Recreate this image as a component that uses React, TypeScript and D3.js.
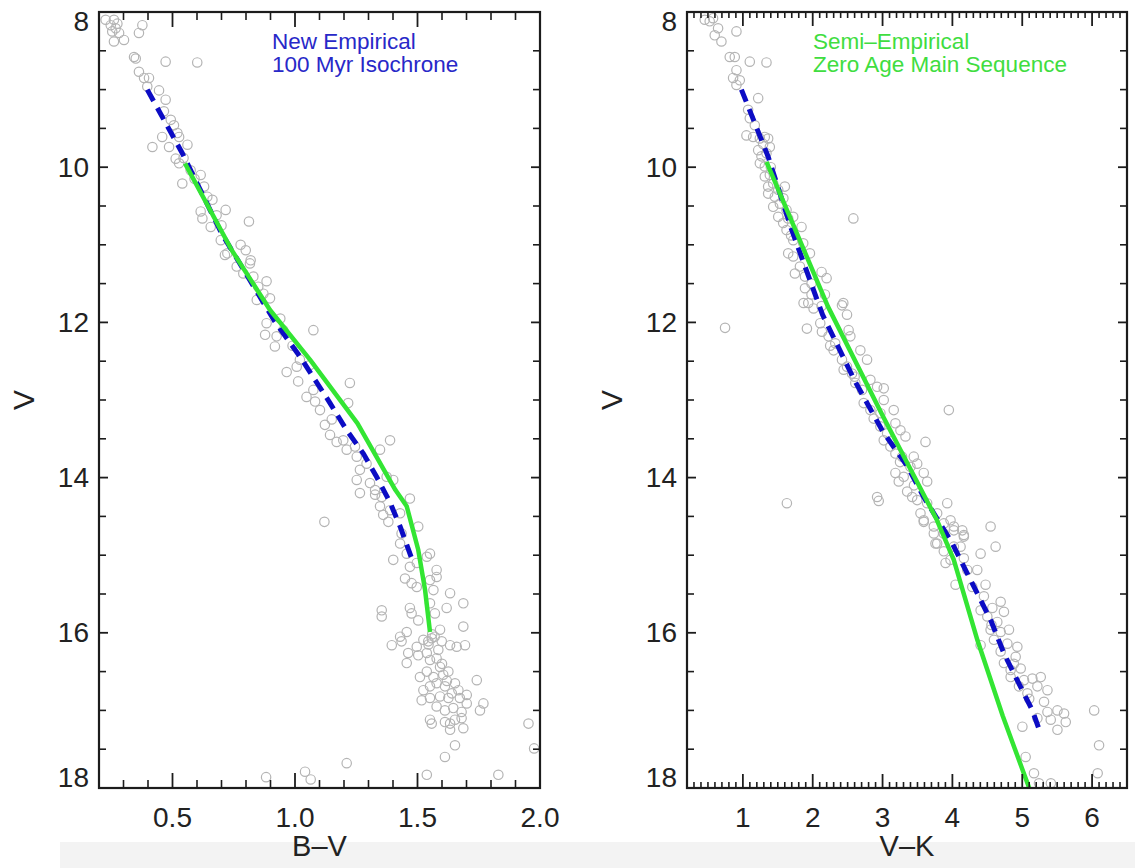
import React from "react";
import * as d3 from "d3";

// ---------- data ----------
// Left panel: B-V vs V (star photometry)
const bvStars: [number, number][] = [
  [0.227, 8.10], [0.248, 8.17], [0.261, 8.10], [0.268, 8.21], [0.254, 8.25], [0.275, 8.15], [0.282, 8.27],
  [0.261, 8.38], [0.302, 8.36], [0.363, 8.27], [0.377, 8.17], [0.343, 8.58], [0.350, 8.60], [0.363, 8.77],
  [0.384, 8.85], [0.404, 8.85], [0.472, 8.64], [0.601, 8.65], [0.397, 8.96], [0.445, 9.01], [0.472, 9.13],
  [0.465, 9.28], [0.493, 9.39], [0.506, 9.46], [0.520, 9.56], [0.527, 9.61], [0.458, 9.61], [0.418, 9.74],
  [0.486, 9.74], [0.561, 9.71], [0.513, 9.89], [0.527, 9.95], [0.540, 10.21], [0.574, 10.04], [0.615, 10.10],
  [0.629, 10.25], [0.642, 10.38], [0.663, 10.42], [0.615, 10.57], [0.622, 10.66], [0.656, 10.77], [0.717, 10.55],
  [0.812, 10.70], [0.697, 10.94], [0.724, 11.11], [0.778, 11.00], [0.799, 11.07], [0.819, 11.20], [0.545, 9.88],
  [0.590, 10.15], [0.680, 10.62], [0.700, 10.75],
  [0.714, 11.13], [0.762, 11.28], [0.789, 11.37], [0.816, 11.24], [0.830, 11.41], [0.850, 11.54], [0.884, 11.47],
  [0.844, 11.71], [0.871, 11.63], [0.898, 11.69], [0.884, 12.01], [0.878, 12.16], [0.918, 12.31], [0.925, 12.18],
  [0.952, 12.10], [1.075, 12.10], [0.966, 12.64], [1.007, 12.57], [1.013, 12.76], [1.020, 12.48], [1.061, 12.55],
  [1.047, 12.96], [1.075, 12.87], [1.082, 13.02], [1.122, 13.32], [1.143, 13.45], [1.170, 13.54], [1.197, 13.52],
  [1.211, 13.64], [1.224, 12.78], [1.217, 13.04], [1.252, 13.73], [1.265, 13.90], [1.252, 14.03], [1.265, 14.20],
  [1.306, 14.07], [1.327, 14.16], [1.347, 13.64], [1.388, 13.52], [1.374, 13.99], [1.401, 14.03], [1.469, 14.27],
  [1.354, 14.25], [1.292, 13.82], [1.245, 13.60], [1.102, 13.13], [0.940, 11.95], [0.990, 12.30], [1.150, 13.25],
  [1.327, 14.22], [1.347, 14.37], [1.360, 14.48], [1.381, 14.57], [1.388, 14.42], [1.429, 14.46], [1.435, 14.72],
  [1.503, 14.63], [1.401, 15.06], [1.429, 14.85], [1.456, 14.98], [1.469, 15.15], [1.497, 15.10], [1.538, 15.02],
  [1.551, 14.98], [1.578, 15.19], [1.449, 15.30], [1.476, 15.36], [1.497, 15.41], [1.551, 15.32], [1.565, 15.45],
  [1.578, 15.28], [1.633, 15.49], [1.687, 15.62], [1.619, 15.68], [1.354, 15.71], [1.354, 15.79], [1.469, 15.68],
  [1.476, 15.75], [1.503, 15.84], [1.571, 15.75], [1.551, 15.62], [1.687, 15.92], [1.456, 15.99], [1.435, 16.11],
  [1.395, 16.16], [1.429, 16.05], [1.462, 16.26], [1.497, 16.18], [1.524, 16.09], [1.544, 16.11], [1.558, 16.07],
  [1.592, 15.96], [1.599, 16.11], [1.633, 16.16], [1.660, 16.18], [1.694, 16.16], [1.456, 16.39], [1.503, 16.29],
  [1.538, 16.26], [1.551, 16.35], [1.578, 16.33], [1.592, 16.44], [1.510, 16.57], [1.538, 16.50], [1.565, 16.57],
  [1.605, 16.54], [1.626, 16.50], [1.524, 16.74], [1.551, 16.69], [1.578, 16.65], [1.612, 16.69], [1.653, 16.65],
  [1.667, 16.74], [1.742, 16.61], [1.701, 16.80], [1.517, 16.87], [1.551, 16.84], [1.592, 16.82], [1.626, 16.84],
  [1.673, 16.84], [1.701, 16.91], [1.578, 16.95], [1.612, 17.00], [1.646, 16.97], [1.680, 17.02], [1.769, 16.91],
  [1.755, 17.00], [1.551, 17.12], [1.558, 17.17], [1.612, 17.15], [1.633, 17.17], [1.653, 17.12], [1.680, 17.10],
  [1.687, 17.23], [1.633, 17.25], [1.653, 17.45], [1.612, 17.60], [1.211, 17.68], [1.538, 17.83], [1.830, 17.83],
  [0.882, 17.86], [1.041, 17.79], [1.064, 17.89], [1.953, 17.17], [1.976, 17.49], [1.120, 14.57],
  [1.560, 16.02], [1.570, 16.05], [1.545, 16.15], [1.585, 16.22], [1.600, 16.40], [1.620, 16.62], [1.640, 16.78],
];

// Left panel: new empirical 100 Myr isochrone (dashed) and semi-empirical ZAMS (solid)
const isoBV: [number, number][] = [
  [0.397, 9.0], [0.54, 9.82], [0.70, 10.85], [0.918, 11.99], [1.02, 12.44], [1.143, 13.04], [1.211, 13.39],
  [1.279, 13.69], [1.333, 13.99], [1.385, 14.3], [1.429, 14.63], [1.476, 15.04],
];
const zamsBV: [number, number][] = [
  [0.551, 9.95], [0.742, 11.07], [0.898, 11.84], [1.061, 12.48], [1.255, 13.30], [1.41, 14.16], [1.456, 14.37],
  [1.503, 14.93], [1.531, 15.45], [1.551, 15.99],
];

// Right panel: V-K vs V
const vkStars: [number, number][] = [
  [0.454, 8.10], [0.525, 8.12], [0.573, 8.08], [0.645, 8.21], [0.597, 8.30], [0.693, 8.38], [0.908, 8.25],
  [0.812, 8.58], [0.884, 8.58], [1.099, 8.64], [1.338, 8.65], [0.908, 8.75], [0.860, 8.85], [0.956, 8.88],
  [0.908, 8.94], [1.219, 9.11], [1.075, 9.26], [1.099, 9.37], [1.171, 9.46], [1.051, 9.59], [1.147, 9.61],
  [1.243, 9.63], [1.314, 9.61], [1.362, 9.63], [1.386, 9.74], [1.219, 9.78], [1.266, 9.86], [1.338, 9.82],
  [1.243, 9.95], [1.314, 9.99], [1.314, 10.12], [1.386, 10.10], [1.362, 10.25], [1.434, 10.21], [1.362, 10.34],
  [1.458, 10.38], [1.506, 10.29], [1.601, 10.25], [1.434, 10.51], [1.530, 10.47], [1.625, 10.55], [1.506, 10.64],
  [1.577, 10.72], [1.649, 10.66], [1.721, 10.64], [1.840, 10.77], [1.625, 10.81], [1.721, 10.94], [1.649, 11.11],
  [1.721, 11.15], [1.864, 10.98], [1.960, 11.11], [1.817, 11.28], [1.745, 11.37], [1.889, 11.41], [1.983, 11.50],
  [2.127, 11.35], [2.199, 11.43], [1.889, 11.56], [1.983, 11.64], [2.175, 11.64], [1.936, 11.75], [2.127, 11.79],
  [2.438, 11.75], [2.582, 10.66], [0.745, 12.07], [1.290, 9.70], [1.400, 10.00], [1.580, 10.40], [1.690, 10.88],
  [1.869, 11.75], [2.012, 11.82], [2.419, 11.78], [2.491, 11.90], [1.917, 12.08], [2.108, 12.01], [2.132, 12.12],
  [2.227, 12.18], [2.323, 12.27], [2.299, 12.36], [2.514, 12.10], [2.539, 12.18], [2.419, 12.48], [2.491, 12.57],
  [2.682, 12.36], [2.778, 12.48], [2.443, 12.61], [2.563, 12.66], [2.610, 12.78], [2.706, 12.87], [2.826, 12.74],
  [2.922, 12.83], [3.017, 12.85], [3.017, 13.00], [2.730, 13.04], [2.826, 13.13], [2.873, 13.24], [2.969, 13.17],
  [3.160, 13.13], [2.969, 13.34], [3.065, 13.43], [3.184, 13.30], [3.256, 13.39], [3.328, 13.47], [3.949, 13.13],
  [3.615, 13.54], [3.017, 13.52], [3.112, 13.60], [3.184, 13.69], [3.280, 13.73], [3.447, 13.73], [3.496, 13.82],
  [3.590, 13.94], [3.184, 13.94], [3.232, 14.05], [3.303, 13.99], [3.399, 13.86], [3.639, 14.05], [3.352, 14.18],
  [3.424, 14.25], [3.496, 14.29], [2.922, 14.25], [2.945, 14.30], [3.639, 14.33], [3.543, 14.46], [3.590, 14.55],
  [3.782, 14.46], [3.926, 14.33], [3.973, 14.55], [3.734, 14.72], [3.877, 14.72], [4.021, 14.68], [4.141, 14.68],
  [4.164, 14.76], [3.782, 14.85], [4.021, 14.89], [4.404, 14.98], [4.547, 14.63], [4.619, 14.89], [1.630, 14.33],
  [2.250, 12.30], [2.600, 12.70], [3.250, 13.80], [3.450, 14.10],
  [3.590, 14.57], [3.734, 14.63], [3.877, 14.59], [4.021, 14.63], [4.164, 14.74], [3.758, 14.85], [3.877, 14.95],
  [4.117, 14.89], [3.973, 15.06], [4.164, 15.04], [4.213, 15.19], [3.902, 15.10], [4.045, 15.38], [4.356, 15.19],
  [4.285, 15.41], [4.475, 15.38], [4.451, 15.53], [4.691, 15.60], [4.404, 15.71], [4.572, 15.68], [4.738, 15.73],
  [4.500, 15.79], [4.643, 15.86], [4.547, 15.96], [4.691, 15.99], [4.810, 15.96], [4.595, 16.09], [4.787, 16.14],
  [4.930, 16.18], [4.404, 16.16], [4.691, 16.24], [4.906, 16.31], [4.738, 16.39], [4.834, 16.48], [4.978, 16.46],
  [4.834, 16.57], [5.025, 16.61], [4.953, 16.69], [5.145, 16.59], [5.265, 16.57], [5.217, 16.69], [5.074, 16.78],
  [5.361, 16.74], [5.312, 16.89], [5.361, 17.02], [5.504, 17.00], [5.599, 17.04], [5.408, 17.12], [5.217, 17.10],
  [5.504, 17.25], [5.623, 17.15], [5.002, 17.21], [5.049, 17.60], [5.168, 17.81], [5.240, 17.94], [5.410, 17.94],
  [6.030, 17.00], [6.100, 17.45], [6.080, 17.81], [4.560, 15.90], [4.880, 16.40], [5.100, 16.85],
];

const isoVK: [number, number][] = [
  [0.979, 9.0], [1.36, 9.86], [1.70, 10.81], [2.14, 11.9], [2.6, 12.75], [3.0, 13.4], [3.36, 13.86],
  [3.59, 14.25], [4.0, 14.85], [4.21, 15.23], [4.40, 15.57], [4.55, 15.84], [4.74, 16.27], [4.906, 16.57],
  [5.145, 17.0], [5.24, 17.24],
];
const zamsVK: [number, number][] = [
  [1.338, 9.93], [2.22, 11.8], [3.0, 13.2], [3.78, 14.55], [4.02, 15.06], [4.36, 16.1], [4.72, 17.07],
  [5.10, 18.0],
];

const yMajorTicks = [8, 10, 12, 14, 16, 18];
const bvMajorTicks = [0.5, 1.0, 1.5, 2.0];
const bvTickLabels = ["0.5", "1.0", "1.5", "2.0"];
const vkMajorTicks = [1, 2, 3, 4, 5, 6];
const vkTickLabels = ["1", "2", "3", "4", "5", "6"];
const legendLeft = ["New Empirical", "100 Myr Isochrone"];
const legendRight = ["Semi\u2013Empirical", "Zero Age Main Sequence"];

// ---------- drawing ----------
const FONT = "'Liberation Sans', Arial, Helvetica, sans-serif";
const AXIS = "#1c1c1c";
const BLUE = "#0c0cc4";
const GREEN = "#33e533";
const TOP = 12;
const BOTTOM = 788;

type PanelProps = {
  id: string;
  x: d3.ScaleLinear<number, number>;
  pts: [number, number][];
  iso: [number, number][];
  zams: [number, number][];
  majors: number[];
  majorLabels: string[];
  minors: number[];
  xMajorLen: number;
  xMinorLen: number;
  xTitle: string;
  legend: string[];
  legendColor: string;
  legendX: number;
};

const y = d3.scaleLinear().domain([8, 18]).range([TOP, BOTTOM]);
const yMinors = d3.range(17, 36).map((i) => i / 2).filter((v) => !yMajorTicks.includes(v));

function Panel(p: PanelProps) {
  const [x0, x1] = p.x.range();
  const line = d3
    .line<[number, number]>()
    .x((d) => p.x(d[0]))
    .y((d) => y(d[1]));
  const yLen = 9;
  const yMinLen = 7;
  return (
    <g>
      <defs>
        <clipPath id={p.id}>
          <rect x={x0} y={TOP} width={x1 - x0} height={BOTTOM - TOP} />
        </clipPath>
      </defs>
      <g clipPath={`url(#${p.id})`}>
        {p.pts.map((d, i) => (
          <circle
            key={i}
            cx={p.x(d[0])}
            cy={y(d[1])}
            r={4.7}
            fill="none"
            stroke="#b4b4b4"
            strokeWidth={1.2}
          />
        ))}
        <path d={line(p.iso) || ""} fill="none" stroke={BLUE} strokeWidth={5} strokeDasharray="13 8" />
        <path d={line(p.zams) || ""} fill="none" stroke={GREEN} strokeWidth={4.5} strokeLinejoin="round" />
      </g>
      {p.minors.map((v, i) => (
        <g key={"xm" + i}>
          <line x1={p.x(v)} x2={p.x(v)} y1={BOTTOM} y2={BOTTOM - p.xMinorLen} stroke={AXIS} strokeWidth={1.6} />
          <line x1={p.x(v)} x2={p.x(v)} y1={TOP} y2={TOP + p.xMinorLen} stroke={AXIS} strokeWidth={1.6} />
        </g>
      ))}
      {p.majors.map((v, i) => (
        <g key={"xM" + i}>
          <line x1={p.x(v)} x2={p.x(v)} y1={BOTTOM} y2={BOTTOM - p.xMajorLen} stroke={AXIS} strokeWidth={1.8} />
          <line x1={p.x(v)} x2={p.x(v)} y1={TOP} y2={TOP + p.xMajorLen} stroke={AXIS} strokeWidth={1.8} />
          <text
            x={p.x(v)}
            y={817}
            textAnchor="middle"
            dominantBaseline="central"
            fontFamily={FONT}
            fontSize={28}
            fill="#222"
          >
            {p.majorLabels[i]}
          </text>
        </g>
      ))}
      {yMinors.map((v, i) => (
        <g key={"ym" + i}>
          <line x1={x0} x2={x0 + yMinLen} y1={y(v)} y2={y(v)} stroke={AXIS} strokeWidth={1.6} />
          <line x1={x1} x2={x1 - yMinLen} y1={y(v)} y2={y(v)} stroke={AXIS} strokeWidth={1.6} />
        </g>
      ))}
      {yMajorTicks.map((v, i) => (
        <g key={"yM" + i}>
          <line x1={x0} x2={x0 + yLen} y1={y(v)} y2={y(v)} stroke={AXIS} strokeWidth={1.8} />
          <line x1={x1} x2={x1 - yLen} y1={y(v)} y2={y(v)} stroke={AXIS} strokeWidth={1.8} />
          <text
            x={x0 - 10}
            y={y(v) + (v === 8 ? 9 : v === 18 ? -11 : 0)}
            textAnchor="end"
            dominantBaseline="central"
            fontFamily={FONT}
            fontSize={28}
            fill="#222"
          >
            {String(v)}
          </text>
        </g>
      ))}
      <rect x={x0} y={TOP} width={x1 - x0} height={BOTTOM - TOP} fill="none" stroke={AXIS} strokeWidth={2.2} />
      <text
        transform={`translate(${x0 - 76},400) rotate(-90)`}
        textAnchor="middle"
        dominantBaseline="central"
        fontFamily={FONT}
        fontSize={30}
        fill="#222"
      >
        V
      </text>
      <text
        x={(x0 + x1) / 2}
        y={846}
        textAnchor="middle"
        dominantBaseline="central"
        fontFamily={FONT}
        fontSize={29}
        fill="#222"
      >
        {p.xTitle}
      </text>
      {p.legend.map((s, i) => (
        <text
          key={"lg" + i}
          x={p.legendX}
          y={49 + i * 23}
          fontFamily={FONT}
          fontSize={22.5}
          fill={p.legendColor}
        >
          {s}
        </text>
      ))}
    </g>
  );
}

export default function App() {
  const xL = d3.scaleLinear().domain([0.2, 2.0]).range([99, 540]);
  const xR = d3.scaleLinear().domain([0.2, 6.5]).range([687, 1127]);
  const bvMinors = d3.range(3, 20).map((i) => i / 10).filter((v) => !bvMajorTicks.some((m) => Math.abs(m - v) < 1e-6));
  const vkMinors = d3.range(3, 65).map((i) => i / 10).filter((v) => !vkMajorTicks.some((m) => Math.abs(m - v) < 1e-6));
  return (
    <svg
      width={1135}
      height={868}
      style={{ position: "absolute", left: 0, top: 0, background: "#fff" }}
    >
      <rect x={0} y={0} width={1135} height={868} fill="#fff" />
      <rect x={60} y={842} width={1075} height={26} fill="#f3f3f3" />
      <Panel
        id="clipL"
        x={xL}
        pts={bvStars}
        iso={isoBV}
        zams={zamsBV}
        majors={bvMajorTicks}
        majorLabels={bvTickLabels}
        minors={bvMinors}
        xMajorLen={15}
        xMinorLen={8}
        xTitle={"B\u2013V"}
        legend={legendLeft}
        legendColor="#2828c8"
        legendX={272}
      />
      <Panel
        id="clipR"
        x={xR}
        pts={vkStars}
        iso={isoVK}
        zams={zamsVK}
        majors={vkMajorTicks}
        majorLabels={vkTickLabels}
        minors={vkMinors}
        xMajorLen={14}
        xMinorLen={6}
        xTitle={"V\u2013K"}
        legend={legendRight}
        legendColor="#40dd40"
        legendX={813}
      />
    </svg>
  );
}
